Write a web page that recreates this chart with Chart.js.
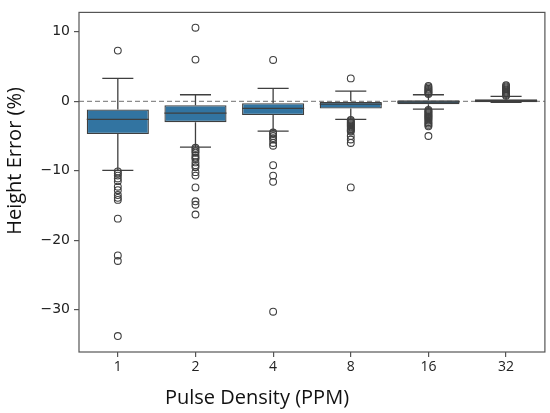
<!DOCTYPE html>
<html>
<head>
<meta charset="utf-8">
<script src="https://cdn.jsdelivr.net/npm/chart.js@4.4.1/dist/chart.umd.min.js"></script>
<style>
  html, body { margin: 0; padding: 0; background: #fff; }
  #wrap { width: 550px; height: 413px; }
</style>
</head>
<body>
<div id="wrap"><canvas id="chart"></canvas></div>
<script>
// box statistics per pulse density (%)
const densities = ['1', '2', '4', '8', '16', '32'];
const q1 = [-4.7, -3.0, -1.97, -1.05, -0.42, -0.12];
const q3 = [-1.17, -0.56, -0.28, 0.0, 0.14, 0.3];
const medians = [-2.6, -1.7, -1.03, -0.4, -0.1, 0.1];
const whiskerLow = [-9.95, -6.6, -4.3, -2.6, -1.13, -0.15];
const whiskerHigh = [3.3, 0.94, 1.87, 1.45, 0.94, 0.72];

const outliers1 = [7.3, -10.1, -10.4, -10.7, -11.1, -11.5, -12.3, -12.8, -13.5, -13.9, -14.2, -16.9, -22.2, -23.0, -33.8];
const outliers2 = [10.6, 6.0, -6.7, -6.9, -7.2, -7.4, -7.8, -8.1, -8.3, -8.8, -9.2, -9.5, -10.2, -10.7, -12.4, -14.4, -14.9, -16.3];
const outliers4 = [5.95, -4.5, -4.7, -5.0, -5.3, -5.5, -6.0, -6.4, -9.2, -10.7, -11.6, -30.3];
const outliers8 = [3.3, -2.7, -2.85, -3.0, -3.15, -3.3, -3.45, -3.6, -3.75, -3.9, -4.05, -4.2, -4.35, -5.0, -5.5, -6.0, -12.4];
const outliers16 = [1.05, 1.2, 1.35, 1.5, 1.65, 1.8, 2.0, 2.2, -1.25, -1.4, -1.55, -1.7, -1.85, -2.0, -2.15, -2.3, -2.45, -2.6, -2.8, -3.0, -3.2, -3.4, -3.6, -5.0];
const outliers32 = [0.8, 0.95, 1.1, 1.25, 1.4, 1.55, 1.7, 1.85, 2.0, 2.15, 2.3];

const yTicks = [-30, -20, -10, 0, 10];

const LINE = '#3f3f3f';
const BOX = '#3274a1';

const outlierSets = [outliers1, outliers2, outliers4, outliers8, outliers16, outliers32];
const outlierPoints = [];
outlierSets.forEach((vals, i) => {
    vals.forEach(v => outlierPoints.push({ x: densities[i], y: v }));
});

// whiskers, caps and median lines, drawn right after the boxes
const boxParts = {
    id: 'boxParts',
    afterDatasetDraw(chart, args) {
        if (args.index !== 0) return;
        const ctx = chart.ctx;
        const y = chart.scales.y;
        const meta = chart.getDatasetMeta(0);
        ctx.save();
        ctx.strokeStyle = LINE;
        ctx.lineWidth = 1.3;
        meta.data.forEach((bar, i) => {
            const half = bar.width / 2;
            const cap = bar.width / 4;
            const yHi = y.getPixelForValue(whiskerHigh[i]);
            const yLo = y.getPixelForValue(whiskerLow[i]);
            const yQ3 = y.getPixelForValue(q3[i]);
            const yQ1 = y.getPixelForValue(q1[i]);
            const yMed = y.getPixelForValue(medians[i]);
            ctx.beginPath();
            ctx.moveTo(bar.x, yQ3); ctx.lineTo(bar.x, yHi);
            ctx.moveTo(bar.x - cap, yHi); ctx.lineTo(bar.x + cap, yHi);
            ctx.moveTo(bar.x, yQ1); ctx.lineTo(bar.x, yLo);
            ctx.moveTo(bar.x - cap, yLo); ctx.lineTo(bar.x + cap, yLo);
            ctx.moveTo(bar.x - half, yMed); ctx.lineTo(bar.x + half, yMed);
            ctx.stroke();
        });
        ctx.restore();
    }
};

// dashed zero line under the boxes
const zeroLine = {
    id: 'zeroLine',
    beforeDatasetsDraw(chart) {
        const { ctx, chartArea } = chart;
        const y0 = chart.scales.y.getPixelForValue(0);
        ctx.save();
        ctx.strokeStyle = '#8c8c8c';
        ctx.lineWidth = 1.2;
        ctx.setLineDash([5, 3]);
        ctx.beginPath();
        ctx.moveTo(chartArea.left, y0);
        ctx.lineTo(chartArea.right, y0);
        ctx.stroke();
        ctx.restore();
    }
};

// axes frame and axis titles
const frame = {
    id: 'frame',
    afterDraw(chart) {
        const { ctx, chartArea } = chart;
        ctx.save();
        ctx.strokeStyle = '#555';
        ctx.lineWidth = 1.2;
        ctx.strokeRect(chartArea.left, chartArea.top, chartArea.right - chartArea.left, chartArea.bottom - chartArea.top);

        ctx.fillStyle = '#111';
        ctx.font = '20px "Open Sans"';
        ctx.textAlign = 'center';
        ctx.textBaseline = 'middle';
        ctx.fillText('Pulse Density (PPM)', 257, 398);
        ctx.translate(15, 161);
        ctx.rotate(-Math.PI / 2);
        ctx.fillText('Height Error (%)', 0, 0);
        ctx.restore();
    }
};

new Chart(document.getElementById('chart'), {
    type: 'bar',
    data: {
        labels: densities,
        datasets: [{
            type: 'bar',
            data: densities.map((_, i) => [q1[i], q3[i]]),
            backgroundColor: BOX,
            borderColor: LINE,
            borderWidth: 1.3,
            borderSkipped: false,
            barPercentage: 0.8,
            categoryPercentage: 1.0,
            order: 2
        }, {
            type: 'line',
            data: outlierPoints,
            showLine: false,
            pointStyle: 'circle',
            pointRadius: 3.4,
            pointBorderWidth: 1.1,
            pointBorderColor: LINE,
            pointBackgroundColor: 'rgba(255,255,255,0)',
            order: 1
        }]
    },
    options: {
        responsive: true,
        maintainAspectRatio: false,
        animation: false,
        layout: { padding: { left: 0, right: 5, top: 5, bottom: 0 } },
        plugins: {
            legend: { display: false },
            tooltip: { enabled: false }
        },
        scales: {
            x: {
                offset: true,
                grid: { offset: false, drawOnChartArea: false, drawTicks: true, tickLength: 5, color: '#555', lineWidth: 1.2 },
                border: { display: false },
                ticks: { color: '#222', font: { family: 'Open Sans', size: 14 }, padding: 2 },
                afterFit(scale) { scale.height = 61; }
            },
            y: {
                min: -36.1,
                max: 12.8,
                grid: { drawOnChartArea: false, drawTicks: true, tickLength: 5, color: '#555', lineWidth: 1.2 },
                border: { display: false },
                afterBuildTicks(scale) { scale.ticks = yTicks.map(v => ({ value: v })); },
                ticks: {
                    color: '#222',
                    font: { family: 'DejaVu Sans', size: 14 },
                    padding: 4,
                    callback: v => String(v).replace('-', '\u2212')
                },
                afterFit(scale) { scale.width = 79; }
            }
        }
    },
    plugins: [zeroLine, boxParts, frame]
});
</script>
</body>
</html>
